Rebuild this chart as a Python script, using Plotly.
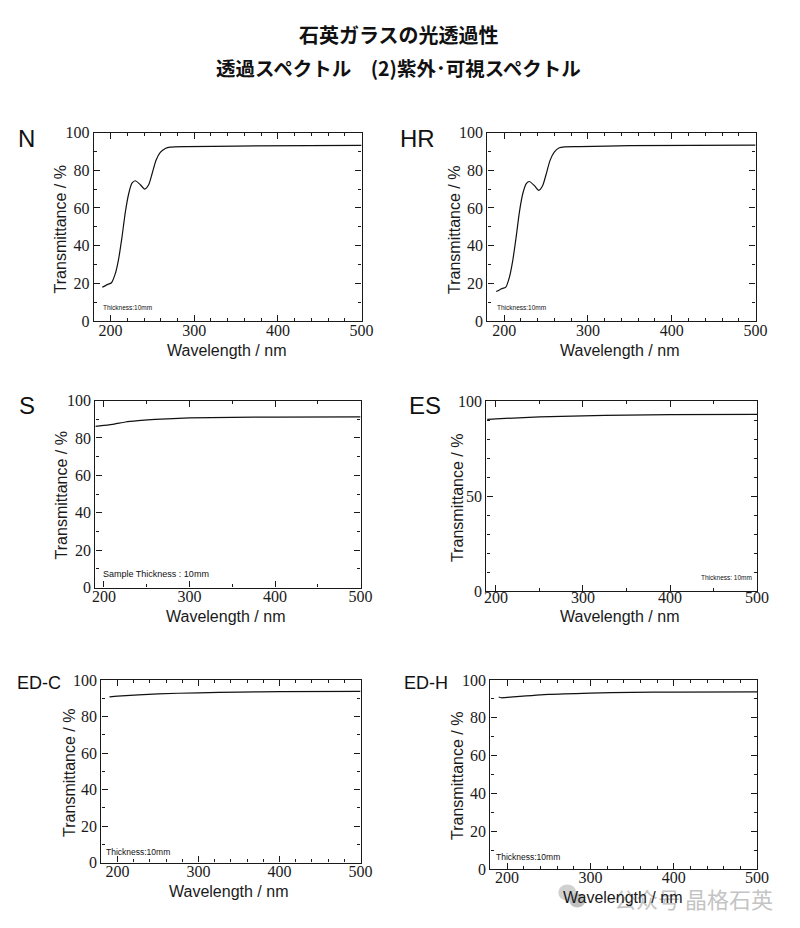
import plotly.graph_objects as go

# target frame of the picture
W, H = 800, 928
# page size and frame offset that land the frame on the photographed picture
PW, PH = 813.5, 945
DX, DY = -2, -7.5


def fx(px):
    return (px + DX) / W


def fy(py):
    return 1 - (py + DY) / H


# ---- data ----
n_wl = [190, 196, 201, 205.6, 209.6, 213.6, 217.6, 221.6, 225.5, 229.5, 235.5, 240.7, 245.5, 249.5, 254.2, 259.4, 265.4, 271.3, 290, 350, 500]
n_t = [17.9, 19.3, 20.3, 25.1, 33, 44.5, 57.8, 67.5, 73.1, 74.4, 72.3, 70, 72.3, 78, 85.2, 89.4, 91.5, 92.2, 92.5, 92.8, 93.2]
hr_wl = [190.5, 196.4, 202, 206.3, 210.3, 214.3, 218.2, 222.2, 226.2, 230.2, 236.1, 241.3, 246, 250, 254.8, 260, 265.9, 271.9, 290, 350, 500]
hr_t = [15.6, 17, 18, 23.3, 32.2, 44.5, 57.8, 67.5, 72.8, 74, 71.8, 69.3, 71.9, 77.7, 85.2, 89.7, 91.9, 92.4, 92.5, 93, 93.3]
s_wl = [190, 200, 212, 225, 240, 260, 300, 350, 400, 500]
s_t = [86.2, 86.7, 87.4, 88.5, 89.2, 89.9, 90.7, 91, 91.1, 91.2]
es_wl = [190, 200, 250, 300, 350, 400, 500]
es_t = [90.3, 90.6, 91.6, 92.2, 92.6, 92.8, 93]
edc_wl = [190, 200, 250, 300, 350, 400, 500]
edc_t = [90.8, 91.2, 92.4, 93, 93.4, 93.6, 93.8]
edh_wl = [190, 193, 197, 203, 250, 300, 350, 400, 500]
edh_t = [91, 90.6, 90.7, 90.9, 92.4, 93.1, 93.5, 93.6, 93.7]

x_major = [200, 300, 400, 500]
y_major_20 = [0, 20, 40, 60, 80, 100]
y_major_50 = [0, 50, 100]

title_line1 = "石英ガラスの光透過性"
title_line2 = "透過スペクトル　(2)紫外･可視スペクトル"
x_title = "Wavelength / nm"
y_title = "Transmittance / %"
wm_text = "公众号 晶格石英"

panels = [
    dict(name="N", wl=n_wl, t=n_t, box=(93, 361, 132, 320.5), xmin=180, yt=y_major_20, xm=20, so=-5,
         lab=(26, 138, 24), note=("Thickness:10mm", 127, 307, 6.5), xt=(225.5, 350), yt_pos=(60, 229)),
    dict(name="HR", wl=hr_wl, t=hr_t, box=(487, 755.5, 132, 320.5), xmin=180, yt=y_major_20, xm=20, so=-5,
         lab=(417, 138, 24), note=("Thickness:10mm", 521, 307, 6.5), xt=(619, 350), yt_pos=(454, 229)),
    dict(name="S", wl=s_wl, t=s_t, box=(94.5, 360, 400, 587), xmin=190, yt=y_major_20, xm=50, so=-6,
         lab=(26, 405, 24), note=("Sample Thickness : 10mm", 155, 573, 9), xt=(225, 615.5), yt_pos=(61, 495)),
    dict(name="ES", wl=es_wl, t=es_t, box=(486, 757, 400.5, 590.5), xmin=189, yt=y_major_50, xm=50, so=-8,
         lab=(425, 405, 24), note=("Thickness: 10mm", 726, 577, 6.5), xt=(619, 615.5), yt_pos=(457, 497)),
    dict(name="ED-C", wl=edc_wl, t=edc_t, box=(100.5, 360, 679.5, 862), xmin=180, yt=y_major_20, xm=20, so=-6,
         lab=(38, 682, 18), note=("Thickness:10mm", 137, 851, 8.5), xt=(228, 891), yt_pos=(68, 772.5)),
    dict(name="ED-H", wl=edh_wl, t=edh_t, box=(490, 757, 679.5, 868.5), xmin=180, yt=y_major_20, xm=20, so=-6,
         lab=(426, 682, 18), note=("Thickness:10mm", 528, 856, 8.5), xt=(622, 897), yt_pos=(457, 775)),
]

fig = go.Figure()
annos = []
INK = "#1a1a1a"
SERIF = "Liberation Serif"
SANS = "'Liberation Sans', Arial, Helvetica, sans-serif"

for i, p in enumerate(panels, start=1):
    l, r, t, b = p["box"]
    xa, ya = f"xaxis{i}", f"yaxis{i}"
    fig.add_trace(go.Scatter(x=p["wl"], y=p["t"], mode="lines", xaxis=f"x{i}", yaxis=f"y{i}",
                             line=dict(color="#111111", width=1.2, shape="spline", smoothing=0.6),
                             showlegend=False, hoverinfo="skip"))
    common = dict(showgrid=False, zeroline=False, showline=True, linecolor=INK, linewidth=1.3,
                  mirror="ticks", ticks="inside", ticklen=6, tickwidth=1, tickcolor=INK,
                  tickfont=dict(family=SERIF, size=16, color=INK))
    fig.update_layout({
        xa: dict(domain=[fx(l), fx(r)], anchor=f"y{i}", range=[p["xmin"], 500], tickvals=x_major,
                 ticklabelstandoff=p["so"],
                 minor=dict(ticks="inside", tick0=200, dtick=p["xm"], ticklen=3, tickwidth=1, tickcolor=INK, showgrid=False),
                 **common),
        ya: dict(domain=[fy(b), fy(t)], anchor=f"x{i}", range=[0, 100], tickvals=p["yt"],
                 minor=dict(ticks="inside", tick0=0, dtick=10, ticklen=3, tickwidth=1, tickcolor=INK, showgrid=False),
                 **common),
    })
    lx, ly, ls = p["lab"]
    annos.append(dict(text=p["name"], x=fx(lx), y=fy(ly), xref="paper", yref="paper", showarrow=False,
                      xanchor="center", yanchor="middle", font=dict(family=SANS, size=ls, color="#111")))
    nt, nx, ny, ns = p["note"]
    annos.append(dict(text=nt, x=fx(nx), y=fy(ny), xref="paper", yref="paper", showarrow=False,
                      xanchor="center", yanchor="middle", font=dict(family=SANS, size=ns, color="#111")))
    tx, ty = p["xt"]
    annos.append(dict(text=x_title, x=fx(tx), y=fy(ty), xref="paper", yref="paper", showarrow=False,
                      xanchor="center", yanchor="middle", font=dict(family=SANS, size=16, color=INK)))
    tx, ty = p["yt_pos"]
    annos.append(dict(text=y_title, x=fx(tx), y=fy(ty), xref="paper", yref="paper", showarrow=False, textangle=-90,
                      xanchor="center", yanchor="middle", font=dict(family=SANS, size=16, color=INK)))

for txt, y, size in [(title_line1, 34, 20), (title_line2, 67, 19.5)]:
    annos.append(dict(text=f"<b>{txt}</b>", x=fx(398), y=fy(y), xref="paper", yref="paper", showarrow=False,
                      xanchor="center", yanchor="middle",
                      font=dict(family="'Noto Sans CJK JP'", size=size, color="#111")))

shapes = [
    dict(type="circle", xref="paper", yref="paper", x0=fx(558), x1=fx(576), y0=fy(900), y1=fy(884),
         fillcolor="#d0d0d0", line=dict(width=0), layer="below"),
    dict(type="circle", xref="paper", yref="paper", x0=fx(569), x1=fx(585), y0=fy(907), y1=fy(893),
         fillcolor="#c0c0c0", line=dict(width=0), layer="below"),
]

annos.insert(0, dict(text=wm_text, x=fx(775), y=fy(897), xref="paper", yref="paper", showarrow=False,
                     xanchor="right", yanchor="middle",
                     font=dict(family="'Noto Sans CJK SC'", size=22, color="#c4c4c4")))

fig.update_layout(width=PW, height=PH, autosize=False, margin=dict(l=0, r=0, t=0, b=0),
                  font=dict(family=SERIF),
                  paper_bgcolor="white", plot_bgcolor="rgba(0,0,0,0)",
                  annotations=annos, shapes=shapes, showlegend=False)

fig.write_html("out.html", config={"displayModeBar": False},
               post_script="document.body.style.margin='0';")
